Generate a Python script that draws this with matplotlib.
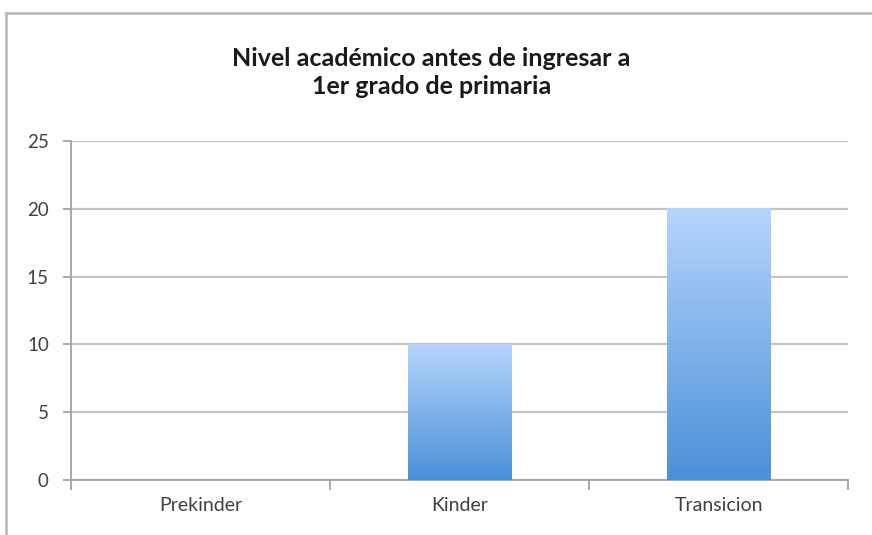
import numpy as np
import matplotlib.pyplot as plt
from matplotlib.colors import LinearSegmentedColormap
from matplotlib.lines import Line2D

categories = ['Prekinder', 'Kinder', 'Transicion']
values = [0, 10, 20]
yticks = [0, 5, 10, 15, 20, 25]
title = 'Nivel académico antes de ingresar a\n1er grado de primaria'

plt.rcParams['font.family'] = ['Lato', 'DejaVu Sans']

fig = plt.figure(figsize=(8.72, 5.35), dpi=100)
ax = fig.add_axes([0.0815, 0.1028, 0.8910, 0.6336])

# marco gris del grafico (solo arriba e izquierda, el resto queda fuera)
fx = 6 / 872
fy = 1 - 13 / 535
fig.lines.append(Line2D([fx, 1.0], [fy, fy], transform=fig.transFigure,
                        color='#b5b5b5', linewidth=1.8))
fig.lines.append(Line2D([fx, fx], [0, fy], transform=fig.transFigure,
                        color='#b5b5b5', linewidth=1.8))

x = np.arange(len(categories))
bars = ax.bar(x, values, width=0.4, color='none', zorder=3)

# degradado vertical en cada barra
grad = LinearSegmentedColormap.from_list('g', ['#4a90d8', '#b6d5fc'])
for b in bars:
    h = b.get_height()
    if h <= 0:
        continue
    x0 = b.get_x()
    ax.imshow(np.linspace(0, 1, 256).reshape(-1, 1), cmap=grad, origin='lower',
              aspect='auto', extent=[x0, x0 + b.get_width(), 0, h], zorder=3)

ax.set_xlim(-0.5, len(categories) - 0.5)
ax.set_ylim(0, 25)
ax.set_yticks(yticks)
ax.set_xticks(x)
ax.set_xticklabels(categories)
ax.set_xticks(np.arange(len(categories) + 1) - 0.5, minor=True)

ax.grid(axis='y', color='#c4c4c4', linewidth=1.6, zorder=0)
ax.set_axisbelow(True)
for s in ['top', 'right']:
    ax.spines[s].set_visible(False)
for s in ['left', 'bottom']:
    ax.spines[s].set_color('#a8a8a8')
    ax.spines[s].set_linewidth(1.4)

ax.tick_params(axis='x', which='major', length=0, pad=12, labelsize=14, labelcolor='#404040')
ax.tick_params(axis='x', which='minor', length=7, width=1.4, color='#a8a8a8')
ax.tick_params(axis='y', length=6, width=1.4, color='#a8a8a8', pad=10, labelsize=13.5, labelcolor='#404040')

fig.text(0.495, 0.865, title, ha='center', va='center', fontsize=18,
         fontweight='bold', color='#1a1a1a', linespacing=1.25)

fig.savefig('out.png', dpi=100)
